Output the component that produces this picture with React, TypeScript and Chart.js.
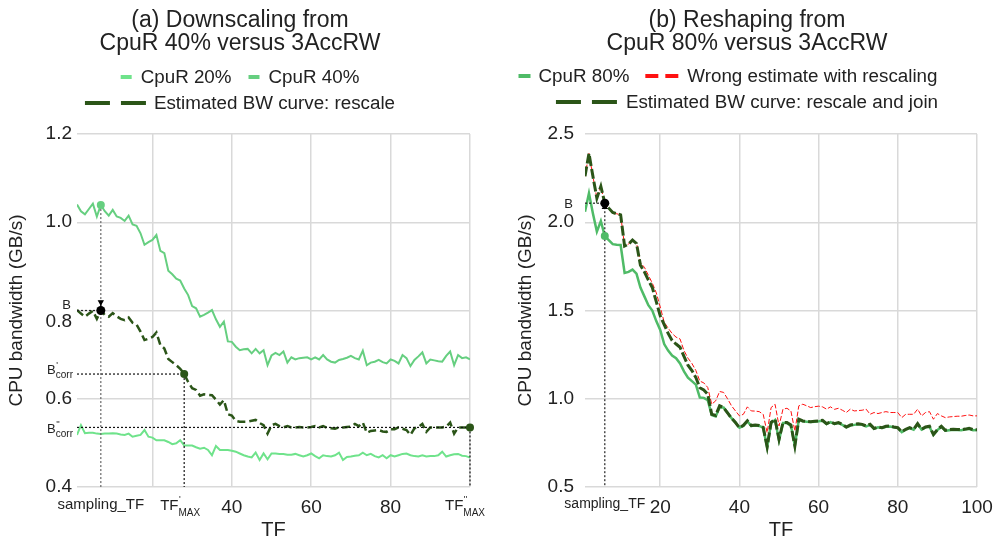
import React, { useEffect, useRef } from 'react';
import { Chart, registerables } from 'chart.js';

Chart.register(...registerables);

const FONT = "'Liberation Sans', Arial, Helvetica, sans-serif";
const TEXT = '#222222';
const GRID = '#d9d9d9';
const C20 = '#6fe38b';
const C40 = '#66cf80';
const C80 = '#4fbb67';
const DARK = '#2b5518';
const RED = '#ff1111';

// ---------- data ----------
const tf = [
  1, 2, 3, 4, 5, 6, 7, 8, 9, 10, 11, 12, 13, 14, 15, 16, 17, 18, 19, 20,
  21, 22, 23, 24, 25, 26, 27, 28, 29, 30, 31, 32, 33, 34, 35, 36, 37, 38, 39, 40,
  41, 42, 43, 44, 45, 46, 47, 48, 49, 50, 51, 52, 53, 54, 55, 56, 57, 58, 59, 60,
  61, 62, 63, 64, 65, 66, 67, 68, 69, 70, 71, 72, 73, 74, 75, 76, 77, 78, 79, 80,
  81, 82, 83, 84, 85, 86, 87, 88, 89, 90, 91, 92, 93, 94, 95, 96, 97, 98, 99, 100,
];

const cpuR20 = [
  0.518, 0.540, 0.522, 0.523, 0.523, 0.521, 0.520, 0.521, 0.521, 0.522,
  0.521, 0.519, 0.518, 0.521, 0.514, 0.516, 0.518, 0.529, 0.514, 0.512,
  0.506, 0.506, 0.506, 0.502, 0.497, 0.499, 0.506, 0.494, 0.494, 0.494,
  0.490, 0.487, 0.489, 0.484, 0.472, 0.493, 0.484, 0.484, 0.484, 0.482,
  0.480, 0.476, 0.472, 0.469, 0.467, 0.478, 0.461, 0.476, 0.463, 0.476,
  0.476, 0.475, 0.475, 0.473, 0.473, 0.475, 0.472, 0.469, 0.472, 0.476,
  0.470, 0.465, 0.472, 0.470, 0.469, 0.472, 0.478, 0.461, 0.468, 0.469,
  0.471, 0.472, 0.478, 0.472, 0.475, 0.470, 0.467, 0.472, 0.465, 0.472,
  0.469, 0.472, 0.475, 0.476, 0.472, 0.470, 0.469, 0.472, 0.469, 0.470,
  0.470, 0.472, 0.480, 0.469, 0.472, 0.474, 0.475, 0.471, 0.470, 0.467,
];

const cpuR40 = [
  1.040, 1.025, 1.018, 1.030, 1.042, 1.013, 1.039, 1.025, 1.015, 1.028,
  1.013, 1.010, 1.003, 1.015, 0.995, 0.992, 0.975, 0.949, 0.955, 0.960,
  0.971, 0.935, 0.930, 0.890, 0.882, 0.872, 0.868, 0.850, 0.835, 0.810,
  0.805, 0.786, 0.790, 0.795, 0.801, 0.780, 0.763, 0.775, 0.730, 0.729,
  0.718, 0.710, 0.712, 0.713, 0.703, 0.713, 0.703, 0.710, 0.676, 0.698,
  0.704, 0.699, 0.707, 0.682, 0.694, 0.689, 0.692, 0.693, 0.694, 0.689,
  0.694, 0.689, 0.699, 0.689, 0.684, 0.682, 0.688, 0.690, 0.693, 0.697,
  0.692, 0.689, 0.709, 0.676, 0.682, 0.684, 0.688, 0.683, 0.680, 0.689,
  0.686, 0.680, 0.699, 0.692, 0.674, 0.688, 0.696, 0.705, 0.680, 0.689,
  0.687, 0.685, 0.684, 0.697, 0.707, 0.676, 0.699, 0.692, 0.694, 0.689,
];

const estRescale = [
  0.801, 0.793, 0.786, 0.793, 0.799, 0.781, 0.800, 0.790, 0.786, 0.794,
  0.787, 0.781, 0.778, 0.784, 0.772, 0.768, 0.752, 0.733, 0.736, 0.740,
  0.750, 0.722, 0.714, 0.690, 0.683, 0.676, 0.668, 0.656, 0.638, 0.624,
  0.620, 0.607, 0.610, 0.609, 0.608, 0.598, 0.587, 0.597, 0.565, 0.562,
  0.550, 0.548, 0.548, 0.548, 0.550, 0.552, 0.545, 0.540, 0.521, 0.540,
  0.543, 0.538, 0.535, 0.538, 0.535, 0.535, 0.536, 0.535, 0.535, 0.536,
  0.538, 0.535, 0.538, 0.534, 0.533, 0.532, 0.535, 0.535, 0.536, 0.537,
  0.543, 0.538, 0.546, 0.523, 0.527, 0.528, 0.529, 0.526, 0.525, 0.531,
  0.531, 0.535, 0.532, 0.529, 0.518, 0.533, 0.536, 0.543, 0.525, 0.535,
  0.535, 0.535, 0.535, 0.537, 0.546, 0.521, 0.535, 0.535, 0.535, 0.535,
];

const cpuR80 = [
  2.060, 2.165, 2.050, 1.947, 2.007, 1.922, 1.899, 1.876, 1.873, 1.871,
  1.713, 1.719, 1.732, 1.709, 1.630, 1.580, 1.530, 1.500, 1.440, 1.390,
  1.310, 1.273, 1.245, 1.230, 1.200, 1.155, 1.120, 1.100, 1.080, 1.007,
  1.005, 0.992, 0.908, 0.900, 0.950, 0.950, 0.920, 0.890, 0.865, 0.836,
  0.846, 0.872, 0.846, 0.848, 0.846, 0.836, 0.725, 0.862, 0.880, 0.765,
  0.862, 0.862, 0.848, 0.735, 0.880, 0.872, 0.870, 0.868, 0.870, 0.872,
  0.875, 0.857, 0.868, 0.857, 0.862, 0.852, 0.838, 0.848, 0.852, 0.855,
  0.852, 0.843, 0.852, 0.830, 0.838, 0.834, 0.841, 0.843, 0.838, 0.834,
  0.811, 0.825, 0.834, 0.825, 0.856, 0.825, 0.838, 0.841, 0.796, 0.822,
  0.841, 0.819, 0.822, 0.825, 0.823, 0.822, 0.826, 0.830, 0.822, 0.823,
];

const wrongEstimate = [
  2.260, 2.390, 2.260, 2.136, 2.203, 2.108, 2.080, 2.055, 2.048, 2.042,
  1.865, 1.876, 1.899, 1.885, 1.770, 1.745, 1.700, 1.655, 1.600, 1.520,
  1.434, 1.400, 1.370, 1.349, 1.339, 1.273, 1.230, 1.200, 1.160, 1.100,
  1.090, 1.064, 0.969, 0.988, 1.041, 1.036, 1.000, 0.960, 0.931, 0.903,
  0.912, 0.954, 0.931, 0.930, 0.927, 0.912, 0.808, 0.950, 0.969, 0.846,
  0.941, 0.946, 0.931, 0.817, 0.960, 0.969, 0.960, 0.950, 0.955, 0.958,
  0.954, 0.941, 0.954, 0.940, 0.946, 0.935, 0.922, 0.941, 0.931, 0.933,
  0.935, 0.941, 0.912, 0.922, 0.916, 0.922, 0.927, 0.922, 0.922, 0.922,
  0.893, 0.912, 0.912, 0.912, 0.941, 0.903, 0.922, 0.927, 0.884, 0.916,
  0.903, 0.893, 0.897, 0.899, 0.901, 0.901, 0.905, 0.908, 0.903, 0.903,
];

const estRescaleJoin = [
  2.260, 2.390, 2.260, 2.136, 2.203, 2.108, 2.080, 2.055, 2.048, 2.042,
  1.865, 1.876, 1.899, 1.880, 1.757, 1.719, 1.672, 1.630, 1.550, 1.470,
  1.420, 1.370, 1.330, 1.310, 1.292, 1.240, 1.190, 1.160, 1.120, 1.062,
  1.050, 1.026, 0.912, 0.905, 0.960, 0.950, 0.920, 0.890, 0.865, 0.836,
  0.850, 0.875, 0.848, 0.851, 0.849, 0.838, 0.727, 0.866, 0.885, 0.770,
  0.865, 0.865, 0.851, 0.732, 0.884, 0.874, 0.872, 0.870, 0.872, 0.874,
  0.878, 0.859, 0.870, 0.859, 0.865, 0.855, 0.840, 0.851, 0.855, 0.858,
  0.855, 0.846, 0.855, 0.832, 0.840, 0.836, 0.844, 0.846, 0.840, 0.836,
  0.813, 0.827, 0.836, 0.827, 0.859, 0.827, 0.840, 0.844, 0.798, 0.825,
  0.844, 0.821, 0.825, 0.827, 0.826, 0.825, 0.828, 0.832, 0.825, 0.825,
];

// axis / tick definitions
const leftYRange = [0.4, 1.2];
const leftYStep = 0.2;
const rightYRange = [0.5, 2.5];
const rightYStep = 0.5;
const xRange = [1, 100];

const leftSamplingTF = 7;
const leftTFMax1 = 28;
const leftTFMax2 = 100;
const leftBUpper = 0.819;
const rightSamplingTF = 6;
const rightBLower = 2.085;

const leftXTicks = [7, 20, 28, 40, 60, 80, 100];
const leftXTickLabels = ['sampling_TF', '', '', '40', '60', '80', ''];
const rightXTicks = [6, 20, 40, 60, 80, 100];
const rightXTickLabels = ['sampling_TF', '20', '40', '60', '80', '100'];

const leftTitle = ['(a) Downscaling from', 'CpuR 40% versus 3AccRW'];
const rightTitle = ['(b) Reshaping from', 'CpuR 80% versus 3AccRW'];

const LEGEND_SIZE = 18.8;

// ---------- helpers ----------
type Rich = {
  main: string; sup?: string; sub?: string;
  size: number; supSize?: number; subSize?: number;
  supDy?: number; subDy?: number;
};

function drawRich(ctx: CanvasRenderingContext2D, r: Rich, x: number, baseline: number, align: string) {
  ctx.font = `${r.size}px ${FONT}`;
  const mw = ctx.measureText(r.main).width;
  let sw = 0;
  let bw = 0;
  if (r.sup) { ctx.font = `${r.supSize}px ${FONT}`; sw = ctx.measureText(r.sup).width; }
  if (r.sub) { ctx.font = `${r.subSize}px ${FONT}`; bw = ctx.measureText(r.sub).width; }
  const total = mw + Math.max(sw, bw);
  const sx = align === 'right' ? x - total : align === 'center' ? x - total / 2 : x;
  ctx.textAlign = 'left';
  ctx.textBaseline = 'alphabetic';
  ctx.font = `${r.size}px ${FONT}`;
  ctx.fillText(r.main, sx, baseline);
  if (r.sup) { ctx.font = `${r.supSize}px ${FONT}`; ctx.fillText(r.sup, sx + mw + 0.5, baseline + (r.supDy || 0)); }
  if (r.sub) { ctx.font = `${r.subSize}px ${FONT}`; ctx.fillText(r.sub, sx + mw, baseline + (r.subDy || 0)); }
}

const legendPlugin = {
  id: 'customLegend',
  afterDraw(chart: any, _args: any, opts: any) {
    const ctx: CanvasRenderingContext2D = chart.ctx;
    ctx.save();
    (opts.rows as number[][]).forEach((row, r) => {
      ctx.font = `${LEGEND_SIZE}px ${FONT}`;
      const items = row.map((i) => {
        const ds = chart.data.datasets[i];
        const m = ds.legendMarker;
        const mw = m.segments * m.seg + (m.segments - 1) * m.gap;
        const tw = ctx.measureText(ds.label).width;
        return { ds, m, mw, tw, w: mw + m.textGap + tw };
      });
      const total = items.reduce((s, it) => s + it.w, 0) + opts.itemGap * (items.length - 1);
      let x = opts.centerX - total / 2 + (opts.rowShift ? opts.rowShift[r] : 0);
      const y = opts.rowY[r];
      items.forEach((it) => {
        ctx.strokeStyle = it.ds.borderColor;
        ctx.lineWidth = it.m.width;
        ctx.setLineDash([]);
        ctx.lineCap = 'butt';
        for (let s = 0; s < it.m.segments; s++) {
          const sx = x + s * (it.m.seg + it.m.gap);
          ctx.beginPath();
          ctx.moveTo(sx, y);
          ctx.lineTo(sx + it.m.seg, y);
          ctx.stroke();
        }
        ctx.fillStyle = TEXT;
        ctx.textAlign = 'left';
        ctx.textBaseline = 'middle';
        ctx.font = `${LEGEND_SIZE}px ${FONT}`;
        ctx.fillText(it.ds.label, x + it.mw + it.m.textGap, y + 1);
        x += it.w + opts.itemGap;
      });
    });
    ctx.restore();
  },
};

const refPlugin = {
  id: 'refMarks',
  afterDraw(chart: any, _args: any, opts: any) {
    const { ctx, chartArea, scales } = chart;
    const xs = scales.x;
    const ys = scales.y;
    ctx.save();
    ctx.fillStyle = TEXT;
    (opts.yLabels || []).forEach((l: any) => {
      drawRich(ctx, l, chartArea.left + l.dx, ys.getPixelForValue(l.value) + l.dy, 'right');
    });
    (opts.xLabels || []).forEach((l: any) => {
      drawRich(ctx, l, xs.getPixelForValue(l.value) + l.dx, chartArea.bottom + l.dy, 'center');
    });
    (opts.plainYLabels || []).forEach((l: any) => {
      ctx.font = `${l.size}px ${FONT}`;
      ctx.textAlign = 'right';
      ctx.textBaseline = 'middle';
      ctx.fillText(l.text, chartArea.left + l.dx, ys.getPixelForValue(l.value) + l.dy);
    });
    ctx.restore();
  },
};

function series(values: number[]) {
  return values.map((v, i) => ({ x: tf[i], y: v }));
}

function dotted(points: { x: number; y: number }[], color: string, order = 1) {
  return {
    label: '',
    data: points,
    borderColor: color,
    borderWidth: 1.2,
    borderDash: [2, 2],
    pointRadius: 0,
    fill: false,
    order,
    clip: false,
  };
}

function dot(x: number, y: number, color: string, radius: number) {
  return {
    label: '',
    data: [{ x, y }],
    showLine: false,
    pointRadius: radius,
    pointBackgroundColor: color,
    pointBorderColor: color,
    pointBorderWidth: 0,
    order: 0,
    clip: false,
  };
}

function baseScales(opts: any) {
  return {
    x: {
      type: 'linear',
      min: xRange[0],
      max: xRange[1],
      afterBuildTicks: (s: any) => {
        s.ticks = opts.xTicks.map((v: number) => ({ value: v }));
      },
      afterFit: (s: any) => {
        s.height = 56;
        s.paddingLeft = 0;
        s.paddingRight = opts.rightPad;
      },
      ticks: {
        autoSkip: false,
        maxRotation: 0,
        padding: 9,
        color: TEXT,
        font: (c: any) => ({
          family: FONT,
          size: c.tick && c.tick.value === opts.samplingTF ? opts.samplingSize : 19,
        }),
        callback: (v: number) => {
          const i = opts.xTicks.indexOf(v);
          return i >= 0 ? opts.xTickLabels[i] : '';
        },
      },
      grid: {
        color: (c: any) => (c.tick && c.tick.value % 20 === 0 ? GRID : 'rgba(0,0,0,0)'),
        lineWidth: 1.5,
        drawTicks: false,
      },
      border: { display: false },
      title: {
        display: true,
        text: 'TF',
        color: TEXT,
        font: { family: FONT, size: 20 },
        padding: { top: 0, bottom: 1 },
      },
    },
    y: {
      type: 'linear',
      min: opts.yRange[0],
      max: opts.yRange[1],
      afterFit: (s: any) => { s.width = opts.yWidth; },
      ticks: {
        stepSize: opts.yStep,
        padding: opts.yTickPad,
        color: TEXT,
        font: { family: FONT, size: 19 },
        callback: (v: number) => (opts.hiddenY.some((h: number) => Math.abs(h - v) < 1e-6) ? '' : v.toFixed(1)),
      },
      grid: { color: GRID, lineWidth: 1.5, drawTicks: false },
      border: { display: false },
      title: {
        display: true,
        text: 'CPU bandwidth (GB/s)',
        color: TEXT,
        font: { family: FONT, size: 19 },
        padding: { top: opts.yTitlePad, bottom: 0 },
      },
    },
  };
}

function titleOpts(text: string[]) {
  return {
    display: true,
    text,
    color: TEXT,
    font: { family: FONT, size: 23, weight: 'normal', lineHeight: 1.0 },
    padding: { top: 9, bottom: 79 },
  };
}

function leftConfig(): any {
  const bVal = estRescale[leftSamplingTF - 1];
  const m1 = estRescale[leftTFMax1 - 1];
  const m2 = estRescale[leftTFMax2 - 1];
  const sVal = cpuR40[leftSamplingTF - 1];
  const yMin = leftYRange[0];
  return {
    type: 'line',
    data: {
      datasets: [
        { label: 'CpuR 20%', data: series(cpuR20), borderColor: C20, borderWidth: 2, pointRadius: 0, order: 4,
          legendMarker: { segments: 1, seg: 11, gap: 0, width: 4, textGap: 9 } },
        { label: 'CpuR 40%', data: series(cpuR40), borderColor: C40, borderWidth: 2, pointRadius: 0, order: 3,
          legendMarker: { segments: 1, seg: 11, gap: 0, width: 4, textGap: 9 } },
        { label: 'Estimated BW curve: rescale', data: series(estRescale), borderColor: DARK, borderWidth: 2.5,
          borderDash: [8, 4], pointRadius: 0, order: 2,
          legendMarker: { segments: 2, seg: 25, gap: 11, width: 4, textGap: 8 } },
        dotted([{ x: leftSamplingTF, y: sVal }, { x: leftSamplingTF, y: yMin }], '#666666'),
        dotted([{ x: xRange[0], y: bVal }, { x: leftSamplingTF, y: bVal }], '#222222'),
        dotted([{ x: xRange[0], y: m1 }, { x: leftTFMax1, y: m1 }], '#111111'),
        dotted([{ x: leftTFMax1, y: m1 }, { x: leftTFMax1, y: yMin }], '#111111'),
        dotted([{ x: xRange[0], y: m2 }, { x: leftTFMax2, y: m2 }], '#111111'),
        dotted([{ x: leftTFMax2, y: m2 }, { x: leftTFMax2, y: yMin }], '#111111'),
        { label: '', data: [{ x: leftSamplingTF, y: bVal }, { x: leftSamplingTF, y: leftBUpper }],
          borderColor: '#000', borderWidth: 1.2, pointRadius: [0, 2.5], pointStyle: 'triangle', rotation: 180,
          pointBackgroundColor: '#000', pointBorderColor: '#000', order: 0, clip: false },
        dot(leftSamplingTF, sVal, C40, 4),
        dot(leftSamplingTF, bVal, '#000000', 4.5),
        dot(leftTFMax1, m1, DARK, 4),
        dot(leftTFMax2, m2, DARK, 4),
      ],
    },
    options: {
      responsive: false,
      animation: false,
      devicePixelRatio: 1,
      events: [],
      layout: { padding: { left: 0, right: 17, top: 0, bottom: 0 } },
      scales: baseScales({
        xTicks: leftXTicks, xTickLabels: leftXTickLabels, samplingTF: leftSamplingTF, samplingSize: 15,
        yRange: leftYRange, yStep: leftYStep, yWidth: 77, yTickPad: 5, yTitlePad: 5, hiddenY: [0.8], rightPad: 27,
      }),
      plugins: {
        legend: { display: false },
        tooltip: { enabled: false },
        title: titleOpts(leftTitle),
        customLegend: { rows: [[0, 1], [2]], rowY: [77, 103], itemGap: 17, rowShift: [0, 0], centerX: 240 },
        refMarks: {
          yLabels: [
            { value: bVal, main: 'B', size: 13, dx: -6, dy: -2 },
            { value: m1, main: 'B', sup: "'", sub: 'corr', size: 13, supSize: 9, subSize: 10, supDy: -6, subDy: 4, dx: -4, dy: 0 },
            { value: m2, main: 'B', sup: "''", sub: 'corr', size: 13, supSize: 9, subSize: 10, supDy: -6, subDy: 4, dx: -4, dy: 6 },
          ],
          xLabels: [
            { value: leftTFMax1, main: 'TF', sup: "'", sub: 'MAX', size: 15, supSize: 9, subSize: 10, supDy: -8, subDy: 6, dx: -4, dy: 23 },
            { value: leftTFMax2, main: 'TF', sup: "''", sub: 'MAX', size: 15, supSize: 9, subSize: 10, supDy: -8, subDy: 6, dx: -5, dy: 23 },
          ],
          plainYLabels: [{ value: 0.8, text: '0.8', size: 19, dx: -5, dy: 11 }],
        },
      },
    },
    plugins: [legendPlugin, refPlugin],
  };
}

function rightConfig(): any {
  const bVal = estRescaleJoin[rightSamplingTF - 1];
  const sVal = cpuR80[rightSamplingTF - 1];
  const yMin = rightYRange[0];
  return {
    type: 'line',
    data: {
      datasets: [
        { label: 'CpuR 80%', data: series(cpuR80), borderColor: C80, borderWidth: 2.5, pointRadius: 0, order: 4,
          legendMarker: { segments: 1, seg: 12, gap: 0, width: 4, textGap: 8 } },
        { label: 'Wrong estimate with rescaling', data: series(wrongEstimate), borderColor: RED, borderWidth: 1,
          borderDash: [5, 2], pointRadius: 0, order: 3,
          legendMarker: { segments: 2, seg: 13, gap: 7, width: 4, textGap: 9 } },
        { label: 'Estimated BW curve: rescale and join', data: series(estRescaleJoin), borderColor: DARK, borderWidth: 3,
          borderDash: [10, 3], pointRadius: 0, order: 2,
          legendMarker: { segments: 2, seg: 25, gap: 11, width: 4, textGap: 9 } },
        dotted([{ x: rightSamplingTF, y: bVal }, { x: rightSamplingTF, y: yMin }], '#222222'),
        dotted([{ x: xRange[0], y: bVal }, { x: rightSamplingTF, y: bVal }], '#222222'),
        { label: '', data: [{ x: rightSamplingTF, y: bVal }, { x: rightSamplingTF, y: rightBLower }],
          borderColor: '#000', borderWidth: 1.2, pointRadius: [0, 2.5], pointStyle: 'triangle',
          pointBackgroundColor: '#000', pointBorderColor: '#000', order: 0, clip: false },
        dot(rightSamplingTF, sVal, C80, 4),
        dot(rightSamplingTF, bVal, '#000000', 4.5),
      ],
    },
    options: {
      responsive: false,
      animation: false,
      devicePixelRatio: 1,
      events: [],
      layout: { padding: { left: 0, right: 0, top: 0, bottom: 0 } },
      scales: baseScales({
        xTicks: rightXTicks, xTickLabels: rightXTickLabels, samplingTF: rightSamplingTF, samplingSize: 14,
        yRange: rightYRange, yStep: rightYStep, yWidth: 88, yTickPad: 11, yTitlePad: 17, hiddenY: [], rightPad: 20,
      }),
      plugins: {
        legend: { display: false },
        tooltip: { enabled: false },
        title: titleOpts(rightTitle),
        customLegend: { rows: [[0, 1], [2]], rowY: [76, 102], itemGap: 16, rowShift: [-19, 0], centerX: 250 },
        refMarks: {
          yLabels: [{ value: bVal, main: 'B', size: 13, dx: -12, dy: 4.5 }],
        },
      },
    },
    plugins: [legendPlugin, refPlugin],
  };
}

function ChartCanvas({ make, width, height, left }: { make: () => any; width: number; height: number; left: number }) {
  const ref = useRef<HTMLCanvasElement>(null);
  useEffect(() => {
    const chart = new Chart(ref.current as HTMLCanvasElement, make());
    return () => chart.destroy();
  }, []);
  return (
    <canvas
      ref={ref}
      width={width}
      height={height}
      style={{ position: 'absolute', left, top: 0, width, height, display: 'block' }}
    />
  );
}

export default function App() {
  return (
    <div style={{ position: 'absolute', left: 0, top: 0, width: 997, height: 543, background: '#ffffff', overflow: 'hidden' }}>
      <ChartCanvas make={leftConfig} width={497} height={543} left={0} />
      <ChartCanvas make={rightConfig} width={500} height={543} left={497} />
    </div>
  );
}
